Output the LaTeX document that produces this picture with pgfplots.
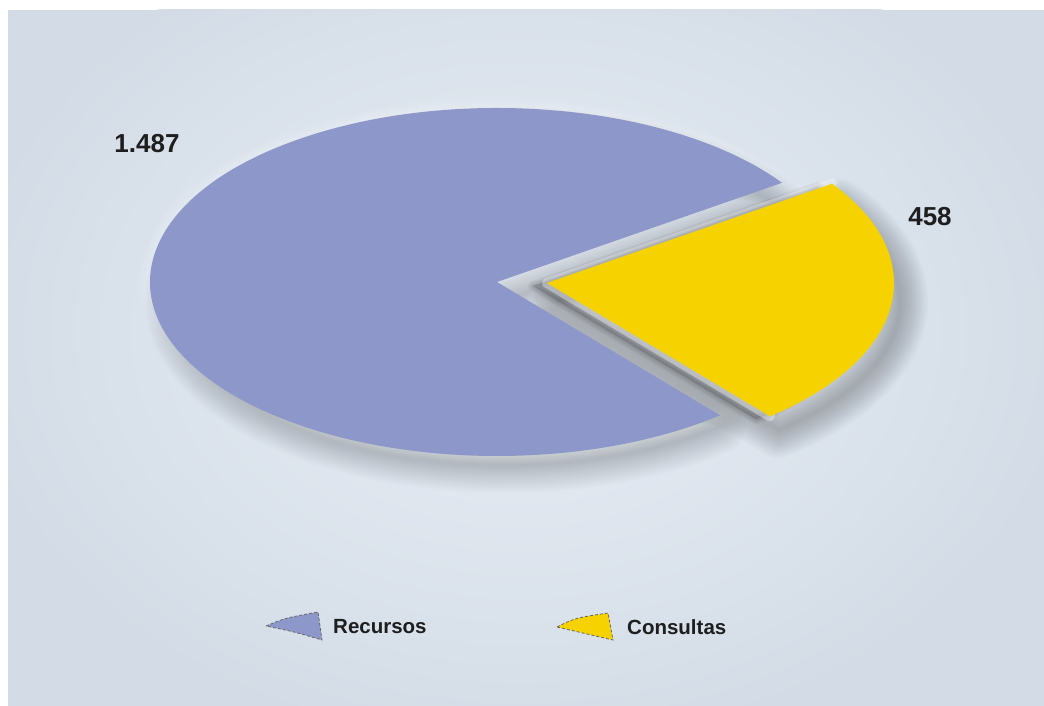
\documentclass[border=0pt]{standalone}
\usepackage{pgfplots}
\usepackage{pgfplotstable}
\pgfplotsset{compat=1.18}
\usepackage{fontspec}
\setmainfont{Liberation Sans}
\definecolor{bgin}{HTML}{E9EEF5}
\definecolor{bgout}{HTML}{D3DCE6}
\definecolor{recblue}{HTML}{8D97CA}
\definecolor{conyel}{HTML}{F6D300}
\definecolor{txt}{HTML}{1E1E1E}
\pgfplotstableread{
label value
Recursos 1487
Consultas 458
}\piedata
\pgfplotstablegetelem{0}{value}\of\piedata \let\vRec\pgfplotsretval
\pgfplotstablegetelem{1}{value}\of\piedata \let\vCon\pgfplotsretval
\pgfmathsetmacro{\sCon}{-50}
\pgfmathsetmacro{\fCon}{\vCon/(\vRec+\vCon)}
\pgfmathsetmacro{\eCon}{\sCon+360*\fCon}
\pgfmathsetmacro{\eRec}{\sCon+360}
\begin{document}
\begin{tikzpicture}
\begin{axis}[
  scale only axis, width=1044pt, height=706pt,
  xmin=0, xmax=1044, ymin=0, ymax=706, y dir=reverse,
  hide axis, clip=false]
% background
\fill[white] (axis cs:0,0) rectangle (axis cs:1044,706);
\begin{scope}
\clip (axis cs:8,10) rectangle (axis cs:1044,706);
\fill[bgout] (axis cs:8,10) rectangle (axis cs:1044,706);
\shade[inner color=bgin, outer color=bgout] (axis cs:520,330) ellipse[x radius=560pt, y radius=420pt];
\end{scope}
% faint light halo round the pie
\pgfplotsinvokeforeach{1,...,5}{
  \draw[white, opacity=0.06, line width=#1*4pt] (axis cs:497,282) ellipse[x radius=347pt, y radius=174pt];
}
% soft outer shadow (blurred by stacked strokes), cast down and to the right
\pgfplotsinvokeforeach{1,...,16}{
  \draw[black, opacity=0.012, line width=#1*3.5pt, line join=round]
    (axis cs:505,300) -- ++(\eCon:332pt and 165pt) arc[start angle=\eCon, end angle=\eRec, x radius=332pt, y radius=165pt] -- cycle;
  \draw[black, opacity=0.014, line width=#1*3.5pt, line join=round]
    (axis cs:560,302) -- ++(\sCon:340pt and 167pt) arc[start angle=\sCon, end angle=\eCon, x radius=340pt, y radius=167pt] -- cycle;
}
% shadow of yellow slice in the gap
\pgfplotsinvokeforeach{1,...,4}{
  \fill[black, opacity=0.035, draw=black, draw opacity=0.035, line width=#1*2.5pt, line join=round]
    (axis cs:533,286) -- ++(\sCon:347pt and 174pt) arc[start angle=\sCon, end angle=\eCon, x radius=347pt, y radius=174pt] -- cycle;
}
% Recursos slice
\fill[recblue] (axis cs:497,282) -- ++(\eCon:347pt and 174pt)
  arc[start angle=\eCon, end angle=\eRec, x radius=347pt, y radius=174pt] -- cycle;
% light rim along the cut edges of the exploded slice
\draw[white, opacity=0.35, line width=10pt, line join=round, line cap=round]
  (axis cs:547,283) ++(\eCon:347pt and 174pt) -- (axis cs:547,283) -- ++(\sCon:347pt and 174pt);
% Consultas slice (exploded)
\fill[conyel] (axis cs:547,283) -- ++(\sCon:347pt and 174pt)
  arc[start angle=\sCon, end angle=\eCon, x radius=347pt, y radius=174pt] -- cycle;
% value labels
\node[font=\bfseries\fontsize{26}{30}\selectfont, text=txt] at (axis cs:147,144) {1.487};
\node[font=\bfseries\fontsize{26}{30}\selectfont, text=txt] at (axis cs:930,217) {458};
% legend
\draw[fill=recblue, draw=black!60, densely dashed, line width=0.8pt]
  (axis cs:266,626) .. controls (axis cs:285,618) .. (axis cs:318,612) -- (axis cs:322,640) .. controls (axis cs:295,632) .. cycle;
\node[anchor=west, inner sep=0pt, font=\bfseries\fontsize{20.5}{24}\selectfont, text=txt] at (axis cs:333,627) {Recursos};
\draw[fill=conyel, draw=black!60, densely dashed, line width=0.8pt]
  (axis cs:557,627) .. controls (axis cs:575,618) .. (axis cs:608,613) -- (axis cs:613,640) .. controls (axis cs:585,634) .. cycle;
\node[anchor=west, inner sep=0pt, font=\bfseries\fontsize{20.5}{24}\selectfont, text=txt] at (axis cs:627,627) {Consultas};
\end{axis}
\pgfresetboundingbox
\path[use as bounding box] (current axis.south west) rectangle (current axis.north east);
\end{tikzpicture}
\end{document}
